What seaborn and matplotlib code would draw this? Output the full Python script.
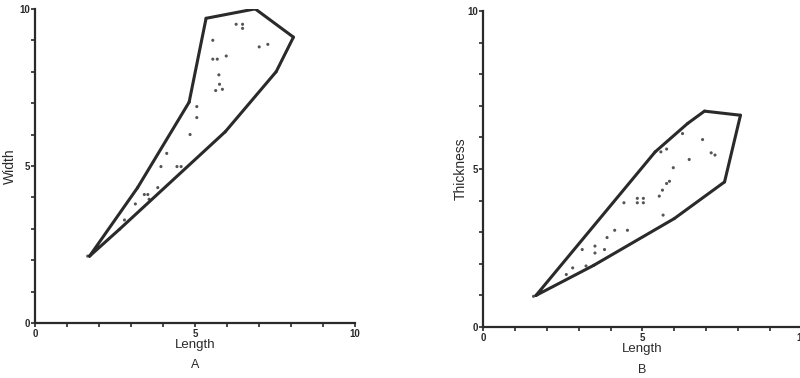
import matplotlib
matplotlib.use("Agg")
import matplotlib.pyplot as plt
import seaborn as sns
import pandas as pd
from matplotlib.ticker import MultipleLocator

# Panel A: Length vs Width
a_len = [6.28, 6.48, 6.48, 5.55, 7.0, 7.27, 5.55, 5.69, 5.97, 5.74, 5.76, 5.64, 5.85,
         5.05, 5.05, 4.84, 4.11, 3.93, 4.43, 4.56, 3.83, 3.41, 3.52, 3.56, 3.13, 2.79,
         2.63, 1.64, 3.2, 4.81, 5.34, 6.875, 8.07, 7.53, 5.94]
a_wid = [9.51, 9.51, 9.38, 9.0, 8.79, 8.87, 8.40, 8.40, 8.50, 7.90, 7.60, 7.40, 7.44,
         6.89, 6.54, 6.0, 5.40, 4.98, 4.98, 4.98, 4.31, 4.09, 4.09, 3.94, 3.79, 3.28,
         2.98, 2.13, 4.31, 7.03, 9.70, 10.0, 9.10, 8.0, 6.09]
a_hull_len = [1.70, 3.2, 4.81, 5.34, 6.875, 8.07, 7.53, 5.94, 2.63, 1.70]
a_hull_wid = [2.13, 4.31, 7.03, 9.70, 10.0, 9.10, 8.0, 6.09, 2.98, 2.13]

# Panel B: Length vs Thickness
b_len = [5.58, 5.76, 6.26, 6.89, 7.16, 7.28, 6.47, 5.97, 5.85, 5.76, 5.63, 5.53, 5.65,
         4.42, 4.84, 5.03, 4.84, 5.03, 4.13, 4.53, 3.89, 3.51, 3.51, 3.81, 3.11, 2.81,
         2.61, 3.23, 3.47, 1.58, 5.4, 6.42, 6.95, 8.08, 7.58, 6.0]
b_thk = [5.54, 5.63, 6.12, 5.93, 5.51, 5.44, 5.30, 5.04, 4.61, 4.54, 4.33, 4.14, 3.54,
         3.93, 4.07, 4.07, 3.93, 3.93, 3.06, 3.06, 2.83, 2.56, 2.34, 2.45, 2.45, 1.87,
         1.66, 1.93, 1.95, 0.97, 5.54, 6.44, 6.83, 6.70, 4.59, 3.43]
b_hull_len = [1.66, 5.4, 6.42, 6.95, 8.08, 7.58, 6.0, 3.47, 1.66]
b_hull_thk = [1.0, 5.54, 6.44, 6.83, 6.70, 4.59, 3.43, 1.95, 1.0]

tick_labels = ["0", "5", "10"]

sns.set_theme(style="white")
plt.rcParams["font.family"] = ["Liberation Sans", "DejaVu Sans"]

fig = plt.figure(figsize=(8.0, 3.78), dpi=100)
axA = fig.add_axes([0.044, 0.1455, 0.400, 0.831])
axB = fig.add_axes([0.604, 0.135, 0.398, 0.836])

ink = "#2a2a2a"

def style(ax, ylabel, letter, ylab_x):
    ax.set_xlim(0, 10)
    ax.set_ylim(0, 10)
    for s in ["top", "right"]:
        ax.spines[s].set_visible(False)
    for s in ["left", "bottom"]:
        ax.spines[s].set_color(ink)
        ax.spines[s].set_linewidth(1.6)
    ax.set_xticks([0, 5, 10])
    ax.set_yticks([0, 5, 10])
    ax.set_xticklabels(tick_labels, fontweight="bold")
    ax.set_yticklabels(tick_labels, fontweight="bold")
    ax.xaxis.set_minor_locator(MultipleLocator(1))
    ax.yaxis.set_minor_locator(MultipleLocator(1))
    ax.tick_params(which="both", direction="out", length=3, width=1.2, color=ink,
                   bottom=True, left=True, labelsize=7, labelcolor=ink, pad=1)
    ax.set_xlabel("Length", fontsize=9.5, color=ink, labelpad=0)
    ax.set_ylabel(ylabel, fontsize=10, color=ink)
    ax.yaxis.set_label_coords(ylab_x, 0.5)
    ax.text(0.5, -0.135, letter, transform=ax.transAxes, ha="center", va="center",
            fontsize=9, color=ink)
    ax.set_facecolor("white")

dfA = pd.DataFrame({"Length": a_len, "Width": a_wid})
dfAh = pd.DataFrame({"Length": a_hull_len, "Width": a_hull_wid})
sns.lineplot(data=dfAh, x="Length", y="Width", sort=False, estimator=None,
             color=ink, linewidth=2.2, ax=axA)
sns.scatterplot(data=dfA, x="Length", y="Width", s=5, color="#555555",
                edgecolor="none", ax=axA)
style(axA, "Width", "A", -0.056)

dfB = pd.DataFrame({"Length": b_len, "Thickness": b_thk})
dfBh = pd.DataFrame({"Length": b_hull_len, "Thickness": b_hull_thk})
sns.lineplot(data=dfBh, x="Length", y="Thickness", sort=False, estimator=None,
             color=ink, linewidth=2.2, ax=axB)
sns.scatterplot(data=dfB, x="Length", y="Thickness", s=5, color="#555555",
                edgecolor="none", ax=axB)
style(axB, "Thickness", "B", -0.047)

for ax in (axA, axB):
    for sp in ax.spines.values():
        sp.set_clip_on(False)

fig.savefig("out.png", dpi=100)
